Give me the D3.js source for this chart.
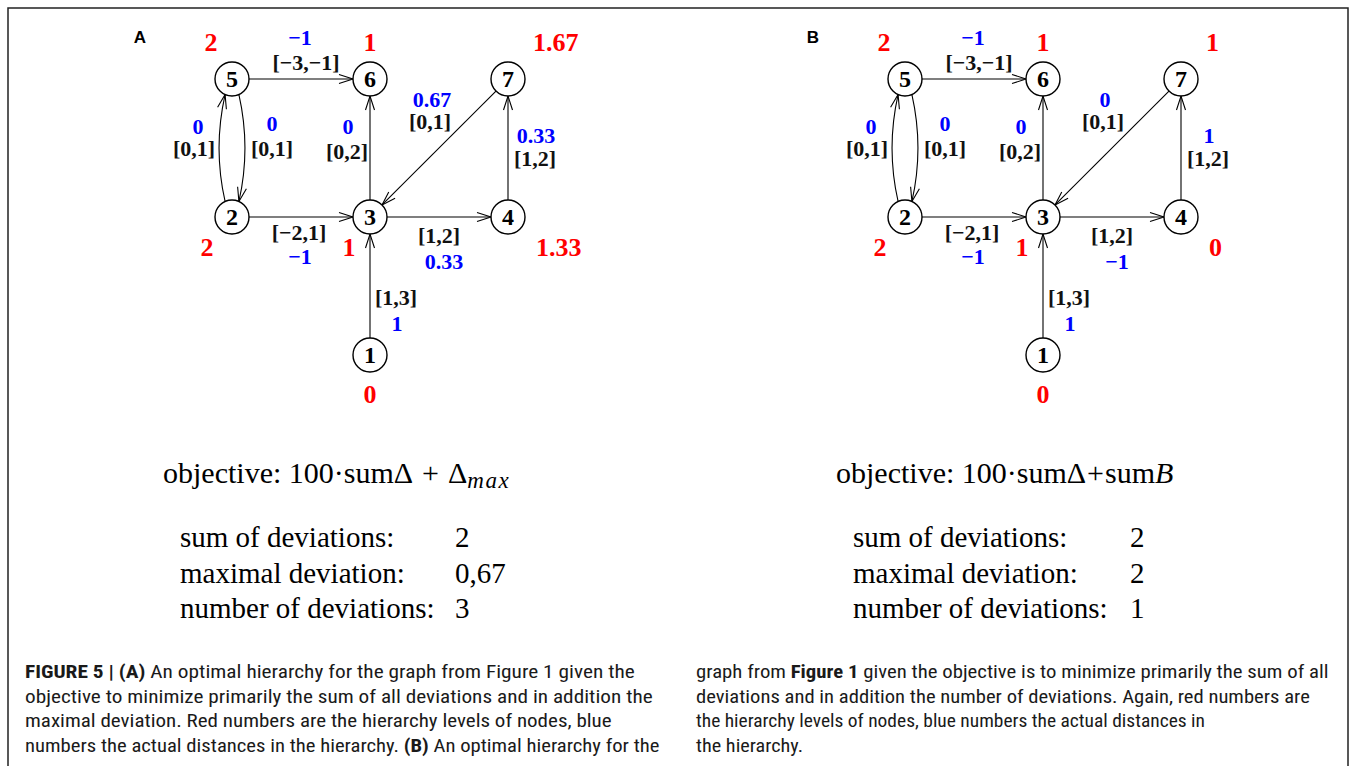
<!DOCTYPE html>
<html>
<head>
<meta charset="utf-8">
<script src="https://cdn.jsdelivr.net/npm/d3@7"></script>
<style>
  body { margin: 0; background: #fff; }
  svg { display: block; }
</style>
</head>
<body>
<svg id="fig" width="1356" height="766"></svg>
<script>
// ---- data ----
var nodeIds = [1, 2, 3, 4, 5, 6, 7]
var nodeCol = [1, 0, 1, 2, 0, 1, 2]
var nodeRow = [2, 1, 1, 1, 0, 0, 0]

var edgeSource = [5, 2, 5, 3, 7, 4, 2, 3, 1]
var edgeTarget = [6, 5, 2, 6, 3, 7, 3, 4, 3]
var edgeInterval = ["[−3,−1]", "[0,1]", "[0,1]", "[0,2]", "[0,1]", "[1,2]", "[−2,1]", "[1,2]", "[1,3]"]

var panelNames = ["A", "B"]
var levelsA = ["0", "2", "1", "1.33", "2", "1", "1.67"]
var levelsB = ["0", "2", "1", "0", "2", "1", "1"]
var distA = ["−1", "0", "0", "0", "0.67", "0.33", "−1", "0.33", "1"]
var distB = ["−1", "0", "0", "0", "0", "1", "−1", "−1", "1"]

var objectiveA = ["objective: 100·sumΔ", "+", "Δ", "max"]
var objectiveB = ["objective: 100·sumΔ", "+", "sum", "B"]
var statLabels = ["sum of deviations:", "maximal deviation:", "number of deviations:"]
var statsA = ["2", "0,67", "3"]
var statsB = ["2", "2", "1"]

var captionLeft = [
  [["FIGURE 5 | (A)", 1], [" An optimal hierarchy for the graph from Figure 1 given the", 0]],
  [["objective to minimize primarily the sum of all deviations and in addition the", 0]],
  [["maximal deviation. Red numbers are the hierarchy levels of nodes, blue", 0]],
  [["numbers the actual distances in the hierarchy. ", 0], ["(B)", 1], [" An optimal hierarchy for the", 0]]
]
var captionRight = [
  [["graph from ", 0], ["Figure 1", 1], [" given the objective is to minimize primarily the sum of all", 0]],
  [["deviations and in addition the number of deviations. Again, red numbers are", 0]],
  [["the hierarchy levels of nodes, blue numbers the actual distances in", 0]],
  [["the hierarchy.", 0]]
]

// ---- layout ----
const svg = d3.select("#fig")
const serif = "'Liberation Serif', 'Times New Roman', serif"
const R = 17

const xScale = d3.scaleLinear().domain([0, 2]).range([232, 508])
const yScale = d3.scaleLinear().domain([0, 2]).range([79, 355])
const panelOffset = d3.scalePoint().domain(panelNames).range([0, 673])

// label offsets (layout only)
const levelOffset = {1: [0, 39, "middle"], 2: [-25, 30, "middle"], 3: [-21, 30, "middle"],
  4: [28, 30, "start"], 5: [-21, -37, "middle"], 6: [0, -37, "middle"], 7: [25, -37, "start"]}
const intervalOffset = [[5, -17], [-38, 0], [40, 0], [-23, 3], [-9, -27], [27, 10], [-2, 15], [0, 18], [26, 11]]
const distOffset = [[-1, -42], [-34, -22], [40, -25], [-22, -22], [-7, -49], [28, -13], [-1, 39], [5, 44], [27, 37]]
const edgeBend = [0, 1, 1, 0, 0, 0, 0, 0, 0]

// frame
svg.append("path")
  .attr("d", "M8,766 V8 H1348 V766")
  .attr("fill", "none").attr("stroke", "#222").attr("stroke-width", 1.5)

svg.append("defs").append("marker")
  .attr("id", "arr")
  .attr("markerUnits", "userSpaceOnUse")
  .attr("markerWidth", 20).attr("markerHeight", 20)
  .attr("refX", 0).attr("refY", 0)
  .attr("viewBox", "-16 -8 20 16")
  .attr("orient", "auto")
  .append("path")
  .attr("d", "M-14,-4.5 L0,0 L-14,4.5")
  .attr("fill", "none").attr("stroke", "#000").attr("stroke-width", 1.1)

function pos(id) {
  const i = nodeIds.indexOf(id)
  return [xScale(nodeCol[i]), yScale(nodeRow[i])]
}

function drawPanel(name, levels, dists, objective, stats) {
  const g = svg.append("g").attr("transform", `translate(${panelOffset(name)},0)`)

  g.append("text")
    .attr("x", 140).attr("y", 43)
    .attr("text-anchor", "middle")
    .attr("font-family", "'Liberation Sans', Arial, sans-serif")
    .attr("font-weight", "bold").attr("font-size", 17)
    .text(name)

  // edges
  edgeSource.forEach((s, i) => {
    const [sx, sy] = pos(s)
    const [tx, ty] = pos(edgeTarget[i])
    const dx = tx - sx, dy = ty - sy
    const len = Math.hypot(dx, dy)
    const ux = dx / len, uy = dy / len
    let d
    if (edgeBend[i]) {
      const px = uy, py = -ux
      const th = 24 * Math.PI / 180
      const c = Math.cos(th), sn = Math.sin(th)
      const x0 = sx + R * (ux * c + px * sn), y0 = sy + R * (uy * c + py * sn)
      const x1 = tx + R * (-ux * c + px * sn), y1 = ty + R * (-uy * c + py * sn)
      const cx = (sx + tx) / 2 + px * 19, cy = (sy + ty) / 2 + py * 19
      d = `M${x0},${y0} Q${cx},${cy} ${x1},${y1}`
    } else {
      d = `M${sx + ux * R},${sy + uy * R} L${tx - ux * R},${ty - uy * R}`
    }
    g.append("path").attr("d", d)
      .attr("fill", "none").attr("stroke", "#000").attr("stroke-width", 1.1)
      .attr("marker-end", "url(#arr)")

    const mx = (sx + tx) / 2, my = (sy + ty) / 2
    g.append("text")
      .attr("x", mx + intervalOffset[i][0]).attr("y", my + intervalOffset[i][1])
      .attr("dy", "0.35em").attr("text-anchor", "middle")
      .attr("font-family", serif).attr("font-weight", "bold").attr("font-size", 22)
      .attr("fill", "#111")
      .text(edgeInterval[i])
    g.append("text")
      .attr("x", mx + distOffset[i][0]).attr("y", my + distOffset[i][1])
      .attr("dy", "0.35em").attr("text-anchor", "middle")
      .attr("font-family", serif).attr("font-weight", "bold").attr("font-size", 22)
      .attr("fill", "#0000ff")
      .text(dists[i])
  })

  // nodes
  const node = g.selectAll("g.node").data(nodeIds).enter().append("g")
    .attr("class", "node")
    .attr("transform", d => `translate(${pos(d)[0]},${pos(d)[1]})`)
  node.append("circle").attr("r", R)
    .attr("fill", "#fff").attr("stroke", "#000").attr("stroke-width", 1.4)
  node.append("text")
    .attr("dy", "0.35em").attr("text-anchor", "middle")
    .attr("font-family", serif).attr("font-weight", "bold").attr("font-size", 24)
    .text(d => d)
  node.append("text")
    .attr("x", d => levelOffset[d][0]).attr("y", d => levelOffset[d][1])
    .attr("dy", "0.35em").attr("text-anchor", d => levelOffset[d][2])
    .attr("font-family", serif).attr("font-weight", "bold").attr("font-size", 26)
    .attr("fill", "#ff0000")
    .text((d, i) => levels[i])

  // objective + stats
  const wide = name === "A"
  const obj = g.append("text")
    .attr("x", 163).attr("y", 483)
    .attr("font-family", serif).attr("font-size", 30)
    .style("white-space", "pre")
  obj.append("tspan").text(objective[0])
  obj.append("tspan").attr("dx", wide ? 9 : 1).text(objective[1])
  obj.append("tspan").attr("dx", wide ? 9 : 1).text(objective[2])
  obj.append("tspan").attr("font-style", "italic")
    .attr("font-size", wide ? 23 : 30)
    .attr("letter-spacing", wide ? 1.5 : 0)
    .attr("dy", wide ? 5 : 0).text(objective[3])

  statLabels.forEach((lab, i) => {
    g.append("text").attr("x", 180).attr("y", 547 + i * 35.5)
      .attr("font-family", serif).attr("font-size", 29).text(lab)
    g.append("text").attr("x", wide ? 455 : 457).attr("y", 547 + i * 35.5)
      .attr("font-family", serif).attr("font-size", 29).text(stats[i])
  })
}

drawPanel("A", levelsA, distA, objectiveA, statsA)
drawPanel("B", levelsB, distB, objectiveB, statsB)

// caption
const captionFont = "'Liberation Sans Narrow', 'Roboto Condensed', Roboto, 'Liberation Sans', sans-serif"
function captionBlock(lines, x0, widths) {
  lines.forEach((parts, i) => {
    const t = svg.append("text")
      .attr("font-family", captionFont).attr("font-size", 17.5).attr("fill", "#1a1a1a")
      .style("white-space", "pre")
    parts.forEach(p => t.append("tspan").attr("font-weight", p[1] ? "bold" : null).text(p[0]))
    const w = t.node().getComputedTextLength()
    t.attr("transform", `translate(${x0},${678 + i * 24.5}) scale(${widths[i] / w},1)`)
  })
}
captionBlock(captionLeft, 25, [610, 628, 587, 635])
captionBlock(captionRight, 696, [633, 614, 509, 107])
</script>
</body>
</html>
